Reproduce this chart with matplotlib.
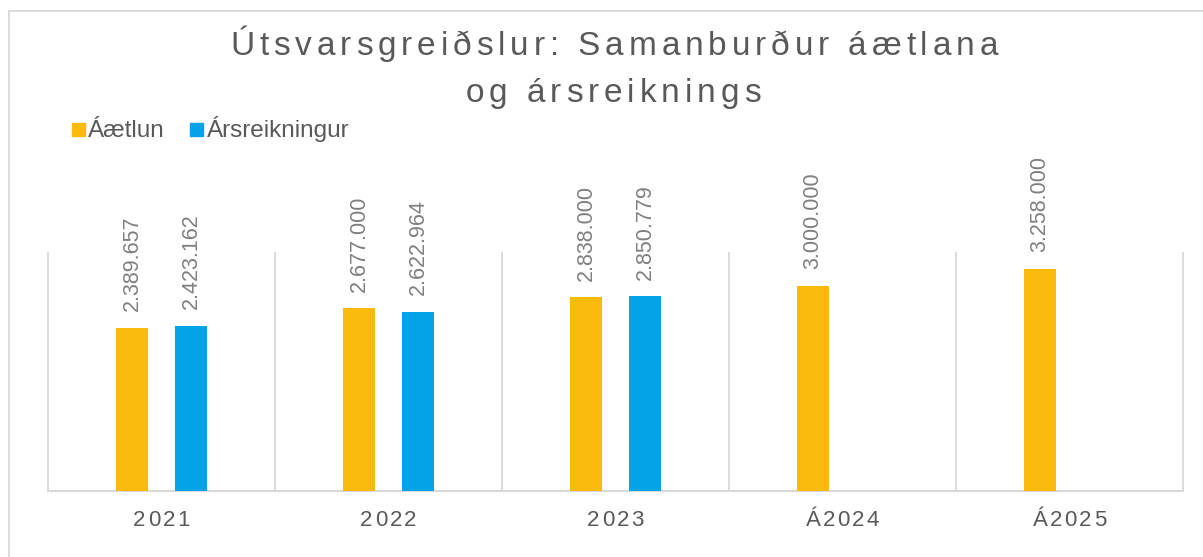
import matplotlib
matplotlib.use("Agg")
import matplotlib.pyplot as plt
from matplotlib.font_manager import FontProperties
from matplotlib.patches import Rectangle
from matplotlib.lines import Line2D
import numpy as np

# gögn
years = ["2021", "2022", "2023", "Á2024", "Á2025"]
aaetlun = [2389657, 2677000, 2838000, 3000000, 3258000]
arsreikningur = [2423162, 2622964, 2850779, np.nan, np.nan]
series_names = ["Áætlun", "Ársreikningur"]
title_lines = ["Útsvarsgreiðslur: Samanburður áætlana", "og ársreiknings"]

W, H = 1203, 557
ORANGE = "#FABA0B"
BLUE = "#04A2E6"
GRID = "#D9D9D9"
DARK = "#595959"
LIGHT = "#7F7F7F"
FONT = "Liberation Sans"

fig = plt.figure(figsize=(W / 100, H / 100), dpi=100)
renderer = fig.canvas.get_renderer()


def px(x, y):
    # pixel (frá efra vinstra horni) -> figure fraction
    return x / W, 1 - y / H


def spaced_text(x, y, s, size, spacing, color):
    # texti með bili milli stafa, miðjaður um x, y er grunnlína í pixlum
    fp = FontProperties(family=FONT, size=size)
    widths = [0.0]
    for i in range(1, len(s) + 1):
        widths.append(renderer.get_text_width_height_descent(s[:i], fp, ismath=False)[0])
    total = widths[-1] + spacing * (len(s) - 1)
    start = x - total / 2
    for i, ch in enumerate(s):
        fx, fy = px(start + widths[i] + i * spacing, y)
        fig.text(fx, fy, ch, fontproperties=fp, color=color, ha="left", va="baseline")


# rammi utan um myndina
fig.add_artist(Line2D([9 / W, 1], [1 - 11 / H, 1 - 11 / H], color=GRID, lw=1.3))
fig.add_artist(Line2D([9 / W, 9 / W], [0, 1 - 11 / H], color=GRID, lw=1.3))

# ás
left, right, top, bottom = 48, 1183, 252, 491
ax = fig.add_axes([left / W, 1 - bottom / H, (right - left) / W, (bottom - top) / H])
ax.set_xlim(-0.5, len(years) - 0.5)
ax.set_ylim(0, 3500000)
for sp in ax.spines.values():
    sp.set_visible(False)
ax.set_xticks([])
ax.set_yticks([])

x = np.arange(len(years))
ax.vlines(np.arange(len(years) + 1) - 0.5, 0, 3500000, color=GRID, lw=1.3, clip_on=False)
ax.axhline(0, color=GRID, lw=1.6, clip_on=False)

bw = 0.137
off = 0.13
b1 = ax.bar(x - off, aaetlun, bw, color=ORANGE, zorder=3)
b2 = ax.bar(x + off, arsreikningur, bw, color=BLUE, zorder=3)


def fmt(v):
    if np.isnan(v):
        return ""
    return f"{v:,.0f}".replace(",", ".")


for bars, vals in [(b1, aaetlun), (b2, arsreikningur)]:
    ax.bar_label(bars, labels=[fmt(v) for v in vals], rotation=90, padding=12,
                 fontsize=15.5, color=LIGHT, family=FONT)

# flokkamerki
xpix = left + (x + 0.5) * (right - left) / len(years)
for xp, lab in zip(xpix, years):
    spaced_text(xp, 526, lab, 16, 2.3, DARK)

# titill
spaced_text(614, 55, title_lines[0], 24, 4.9, DARK)
spaced_text(613, 102, title_lines[1], 24, 4.9, DARK)

# skýringar
for (sx, tx), name, col in zip([(72, 88), (190, 207)], series_names, [ORANGE, BLUE]):
    fx, fy = px(sx, 136)
    fig.add_artist(Rectangle((fx, fy), 13 / W, 13 / H, color=col, transform=fig.transFigure))
    tx_, ty_ = px(tx, 137)
    fig.text(tx_, ty_, name, fontsize=17.5, color=DARK, family=FONT, ha="left", va="baseline")

fig.savefig("out.png", dpi=100)
